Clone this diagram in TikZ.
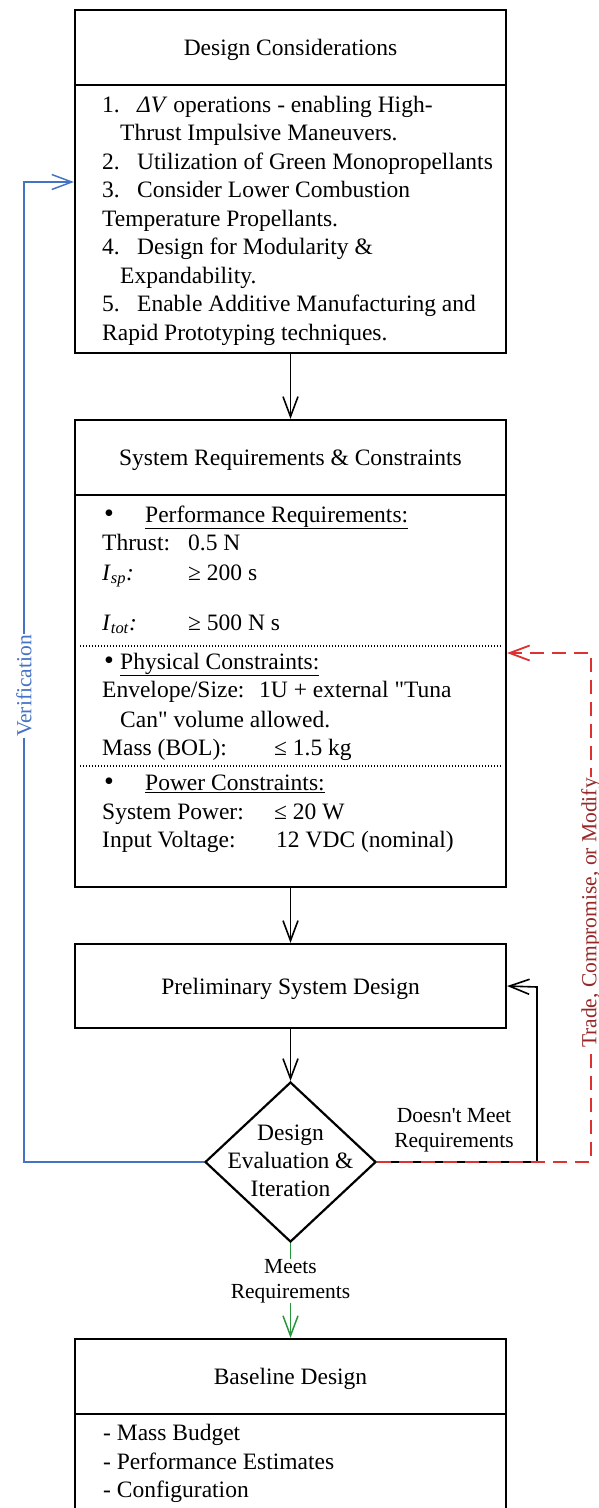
\documentclass[tikz,border=0pt]{standalone}
\usepackage{fontspec}
\setmainfont{Liberation Serif}[Ligatures=TeXOff]
\usetikzlibrary{arrows.meta,shapes.geometric}
\definecolor{vblue}{RGB}{68,114,196}
\definecolor{tred}{RGB}{220,50,50}
\definecolor{dred}{RGB}{150,40,40}
\definecolor{mgreen}{RGB}{40,150,60}
\newcommand\rowtext[4]{\node[txt] (#1) at (#2,#3) {#4};}
\newcommand\bigbullet{{\fontsize{28}{28.5}\selectfont •}}
\tikzset{
  box/.style={draw, line width=2.2pt, rectangle, inner sep=0pt, minimum width=431pt},
  divider/.style={line width=2.2pt},
  txt/.style={anchor=base west, inner sep=0pt, font=\fontsize{23.5}{28.5}\selectfont},
  ctxt/.style={anchor=base, inner sep=0pt, font=\fontsize{23.5}{28.5}\selectfont},
  lbl/.style={inner sep=0pt, font=\fontsize{21.5}{25}\selectfont},
  tip/.style={-{Straight Barb[length=20pt,width=15pt]}},
  conn/.style={line width=1.6pt, tip},
  dots/.style={line width=1.2pt, dash pattern=on 1.4pt off 1.6pt},
}
\begin{document}
\begin{tikzpicture}[x=1pt,y=-1pt]
\useasboundingbox (0,0) rectangle (598,1508);
\clip (0,0) rectangle (598,1508);

% ---------- Box 1 ----------
\node[box, minimum height=343pt] (b1) at (290.5,181.5) {};
\draw[divider] (b1.west |- 0,85) -- (b1.east |- 0,85);
\node[ctxt] (h1) at (290.5,55) {Design Considerations};
\rowtext{c1}{102}{112}{\makebox[35pt][l]{1.}\textit{ΔV} operations - enabling High-}
\rowtext{c2}{120}{140.5}{Thrust Impulsive Maneuvers.}
\rowtext{c3}{102}{169}{\makebox[35pt][l]{2.}Utilization of Green Monopropellants}
\rowtext{c4}{102}{197.5}{\makebox[35pt][l]{3.}Consider Lower Combustion}
\rowtext{c5}{102}{226}{Temperature Propellants.}
\rowtext{c6}{102}{254.5}{\makebox[35pt][l]{4.}Design for Modularity \&}
\rowtext{c7}{120}{283}{Expandability.}
\rowtext{c8}{102}{311.5}{\makebox[35pt][l]{5.}Enable Additive Manufacturing and}
\rowtext{c9}{102}{340}{Rapid Prototyping techniques.}

% ---------- Box 2 ----------
\node[box, minimum height=467pt] (b2) at (290.5,653.5) {};
\draw[divider] (b2.west |- 0,495) -- (b2.east |- 0,495);
\node[ctxt] (h2) at (290.5,465) {System Requirements \& Constraints};
\rowtext{r1}{104}{522}{\makebox[41pt][l]{\bigbullet}\underline{Performance Requirements:}}
\rowtext{r2}{102}{550}{\makebox[86pt][l]{Thrust:}0.5 N}
\rowtext{r3}{102}{580}{\makebox[86pt][l]{\textit{I}\textsubscript{\textit{sp}}\textit{:}}≥ 200 s}
\rowtext{r4}{102}{630}{\makebox[86pt][l]{\textit{I}\textsubscript{\textit{tot}}\textit{:}}≥ 500 N s}
\draw[dots] (80,646) -- (501,646);
\rowtext{r5}{104}{669}{\makebox[16pt][l]{\bigbullet}\underline{Physical Constraints:}}
\rowtext{r6}{102}{697}{\makebox[157pt][l]{Envelope/Size:}1U + external "Tuna}
\rowtext{r7}{120}{727}{Can" volume allowed.}
\rowtext{r8}{102}{755}{\makebox[172pt][l]{Mass (BOL):}≤ 1.5 kg}
\draw[dots] (80,766) -- (501,766);
\rowtext{r9}{104}{790}{\makebox[41pt][l]{\bigbullet}\underline{Power Constraints:}}
\rowtext{r10}{102}{819}{\makebox[172pt][l]{System Power:}≤ 20 W}
\rowtext{r11}{102}{847}{\makebox[174pt][l]{Input Voltage:}12 VDC (nominal)}

% ---------- Box 3 ----------
\node[box, minimum height=84pt] (b3) at (290.5,986) {};
\node[ctxt] (t3) at (290.5,994) {Preliminary System Design};

% ---------- Diamond ----------
\node[draw, diamond, line width=2.2pt, minimum width=171pt, minimum height=160pt, inner sep=0pt] (d) at (290.5,1162) {};
\node[ctxt] (dt1) at (290.5,1140) {Design};
\node[ctxt] (dt2) at (290.5,1168) {Evaluation \&};
\node[ctxt] (dt3) at (290.5,1196) {Iteration};

% ---------- Box 4 ----------
\node[box, minimum height=191pt] (b4) at (290.5,1434.5) {};
\draw[divider] (b4.west |- 0,1414) -- (b4.east |- 0,1414);
\node[ctxt] (h4) at (290.5,1384) {Baseline Design};
\rowtext{m1}{103}{1440}{- Mass Budget}
\rowtext{m2}{103}{1469}{- Performance Estimates}
\rowtext{m3}{103}{1497}{- Configuration}

% ---------- connectors ----------
\coordinate (lp) at (537,987);
\coordinate (rp) at (591,653);
\coordinate (bp) at (24,182);

\draw[conn] (b1.south) -- (b2.north);
\draw[conn] (b2.south) -- (b3.north);
\draw[conn] (b3.south) -- (d.north);
\draw[conn] (d.east) -| (lp) -- (b3.east);
\draw[line width=1.8pt, tred, dash pattern=on 14pt off 8pt, tip] (d.east) -| (rp) -- (b2.east |- rp);
\draw[line width=1.5pt, vblue, tip] (d.west) -| (bp) -- (b1.west |- bp);

\node[lbl, anchor=base] (dm1) at (454,1122) {Doesn't Meet};
\node[lbl, anchor=base] (dm2) at (454,1147) {Requirements};

\node[lbl, align=center, anchor=north] (mt) at (290.5,1259) {Meets\\Requirements};
\draw[line width=1.5pt, mgreen] (d.south) -- (mt.north);
\draw[line width=1.5pt, mgreen, tip] (mt.south) -- (b4.north);

\node[lbl, rotate=90, fill=white, text=vblue, inner xsep=1pt] (ver) at (24,686) {Verification};
\node[lbl, rotate=90, fill=white, text=dred, inner xsep=1pt] (tr) at (591,913) {Trade, Compromise, or Modify};
\end{tikzpicture}
\end{document}
